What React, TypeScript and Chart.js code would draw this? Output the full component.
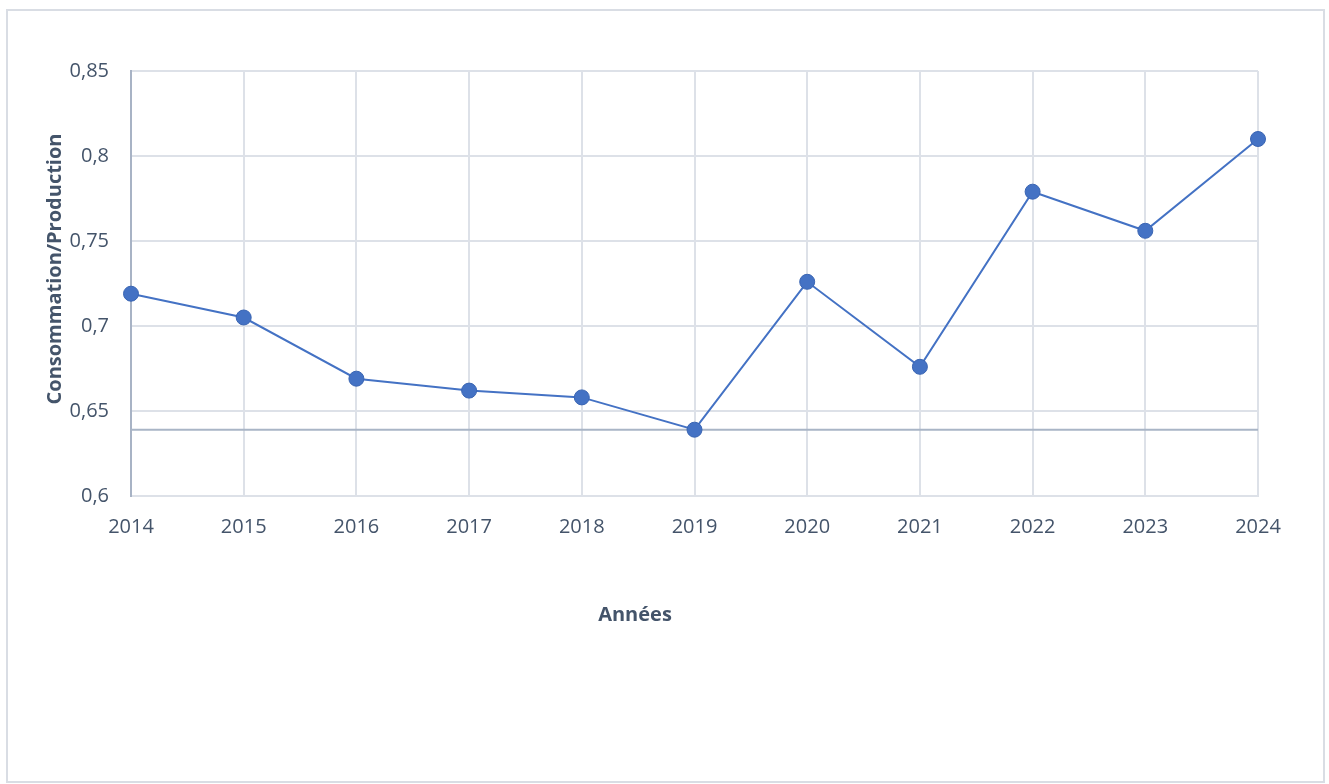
import React, { useEffect, useRef } from "react";
import { Chart, registerables } from "chart.js";

Chart.register(...registerables);

const years = ["2014", "2015", "2016", "2017", "2018", "2019", "2020", "2021", "2022", "2023", "2024"];
const ratio = [0.719, 0.705, 0.669, 0.662, 0.658, 0.639, 0.726, 0.676, 0.779, 0.756, 0.81];
const referenceLevel = [0.639, 0.639, 0.639, 0.639, 0.639, 0.639, 0.639, 0.639, 0.639, 0.639, 0.639];
const yTitle = "Consommation/Production";
const xTitle = "Années";

const FONT = "'Open Sans', 'Noto Sans', sans-serif";
const TEXT = "#44546a";

export default function App() {
  const ref = useRef<HTMLCanvasElement | null>(null);

  useEffect(() => {
    if (!ref.current) return;
    const framePlugin = {
      id: "frame",
      beforeDraw(chart: any) {
        const ctx = chart.ctx;
        ctx.save();
        ctx.fillStyle = "#ffffff";
        ctx.fillRect(0, 0, chart.width, chart.height);
        ctx.strokeStyle = "#d9dde4";
        ctx.lineWidth = 2;
        ctx.strokeRect(7, 10, 1317, 772);
        ctx.restore();
      },
      afterDraw(chart: any) {
        const ctx = chart.ctx;
        ctx.save();
        ctx.fillStyle = TEXT;
        ctx.font = `bold 20px ${FONT}`;
        ctx.textAlign = "center";
        ctx.textBaseline = "middle";
        ctx.fillText(xTitle, 635, 615);
        ctx.translate(55, 269);
        ctx.rotate(-Math.PI / 2);
        ctx.fillText(yTitle, 0, 0);
        ctx.restore();
      },
    };

    const chart = new Chart(ref.current, {
      type: "line",
      data: {
        labels: years,
        datasets: [
          {
            data: referenceLevel,
            borderColor: "#a9b5c6",
            borderWidth: 2,
            pointRadius: 0,
            pointHoverRadius: 0,
            fill: false,
            order: 2,
          },
          {
            data: ratio,
            borderColor: "#4472c4",
            borderWidth: 2,
            backgroundColor: "#4472c4",
            pointBackgroundColor: "#4472c4",
            pointBorderColor: "#3a65b3",
            pointBorderWidth: 1,
            pointRadius: 7.5,
            fill: false,
            tension: 0,
            order: 1,
          },
        ],
      },
      options: {
        animation: false,
        responsive: false,
        devicePixelRatio: 1,
        layout: { padding: { left: 0, top: 71, right: 71, bottom: 0 } },
        plugins: { legend: { display: false }, tooltip: { enabled: false } },
        scales: {
          x: {
            type: "category",
            offset: false,
            grid: { color: "#dde1e8", lineWidth: 2, drawTicks: false },
            border: { color: "#dde1e8", width: 2 },
            ticks: { color: TEXT, font: { family: FONT, size: 20 }, padding: 19, maxRotation: 0 },
            afterFit: (s: any) => {
              s.height = 288;
            },
          },
          y: {
            min: 0.6,
            max: 0.85,
            grid: { color: "#dde1e8", lineWidth: 2, drawTicks: false },
            border: { color: "#a8b3c5", width: 2 },
            ticks: {
              stepSize: 0.05,
              color: TEXT,
              font: { family: FONT, size: 20 },
              padding: 22,
              callback: (v: any) => String(Math.round(Number(v) * 100) / 100).replace(".", ","),
            },
            afterFit: (s: any) => {
              s.width = 131;
            },
          },
        },
      },
      plugins: [framePlugin],
    });
    return () => chart.destroy();
  }, []);

  return (
    <div style={{ position: "fixed", left: 0, top: 0, width: 1329, height: 784 }}>
      <canvas ref={ref} width={1329} height={784} style={{ display: "block" }} />
    </div>
  );
}
